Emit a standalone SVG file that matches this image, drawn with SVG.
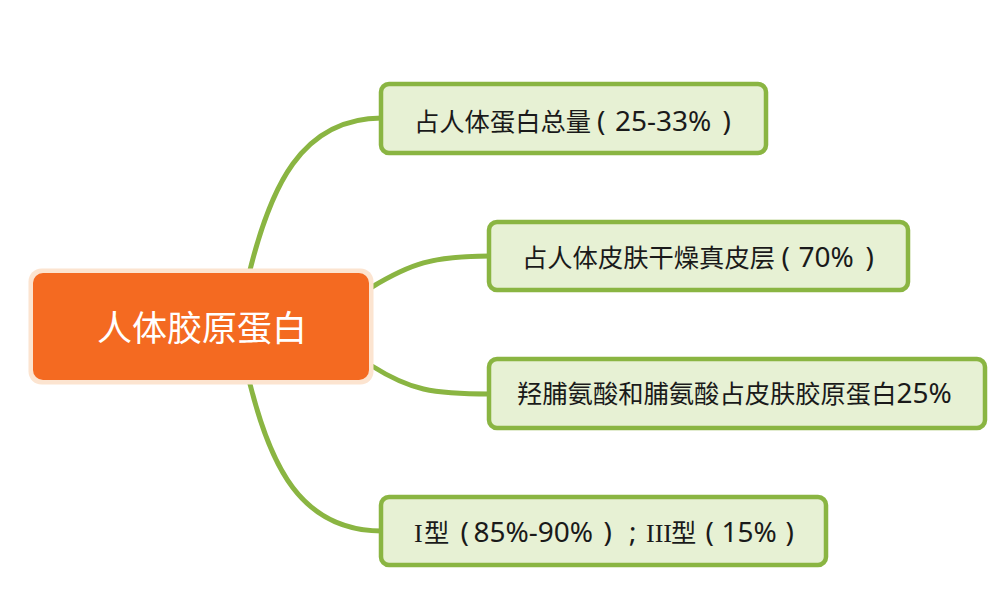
<svg xmlns="http://www.w3.org/2000/svg" width="1008" height="609" viewBox="0 0 1008 609">
<style>
.conn{fill:none;stroke:#8AB542;stroke-width:5;stroke-linecap:round}
.box{fill:#E7F1D4;stroke:#8AB542;stroke-width:4.5}
.t{font-family:"Noto Sans CJK SC","Liberation Sans",sans-serif;font-size:25.3px;fill:#1a1a1a}
.l{font-family:"Noto Sans","Liberation Sans",sans-serif;font-size:28px}
.ser{font-family:"Liberation Serif",serif;font-size:26px}
</style>
<rect width="1008" height="609" fill="#ffffff"/>
<g id="connectors">
<path class="conn" d="M250,270 C270,190 300,118 382,118"/>
<path class="conn" d="M372,287 C410,264 432,256 490,256"/>
<path class="conn" d="M372,366 C410,390 432,394 490,394"/>
<path class="conn" d="M250,384 C270,464 300,531 382,531"/>
</g>
<g id="center">
<rect x="28.5" y="268.5" width="345" height="116" rx="13" fill="#FCE4D0"/>
<rect x="33" y="273" width="336" height="107" rx="10" fill="#F46A21"/>
<text x="97" y="341" class="t" style="font-size:35px;fill:#ffffff">人体胶原蛋白</text>
</g>
<g id="n1">
<rect class="box" x="381" y="84" width="385" height="69" rx="8"/>
<text x="414" y="131" class="t">占人体蛋白总量<tspan class="l" x="597">(</tspan><tspan class="l" x="615">25-33%</tspan><tspan class="l" x="722.5">)</tspan></text>
</g>
<g id="n2">
<rect class="box" x="489" y="222" width="419" height="68" rx="8"/>
<text x="522" y="266.5" class="t">占人体皮肤干燥真皮层<tspan class="l" x="781.5">(</tspan><tspan class="l" x="798.5">70%</tspan><tspan class="l" x="865.5">)</tspan></text>
</g>
<g id="n3">
<rect class="box" x="489" y="359" width="496" height="69" rx="8"/>
<text x="517" y="403" class="t">羟脯氨酸和脯氨酸占皮肤胶原蛋白<tspan class="l">25%</tspan></text>
</g>
<g id="n4">
<rect class="box" x="381" y="497" width="445" height="68" rx="8"/>
<text x="414" y="542" class="t"><tspan class="ser">I</tspan><tspan x="424">型</tspan><tspan class="l" x="460.5">(</tspan><tspan class="l" x="473.5">85%-90%</tspan><tspan class="l" x="603.5">)</tspan><tspan class="l" x="629">;</tspan><tspan class="ser" x="646">III</tspan><tspan x="671">型</tspan><tspan class="l" x="705.5">(</tspan><tspan class="l" x="721.5">15%</tspan><tspan class="l" x="785.5">)</tspan></text>
</g>
</svg>
